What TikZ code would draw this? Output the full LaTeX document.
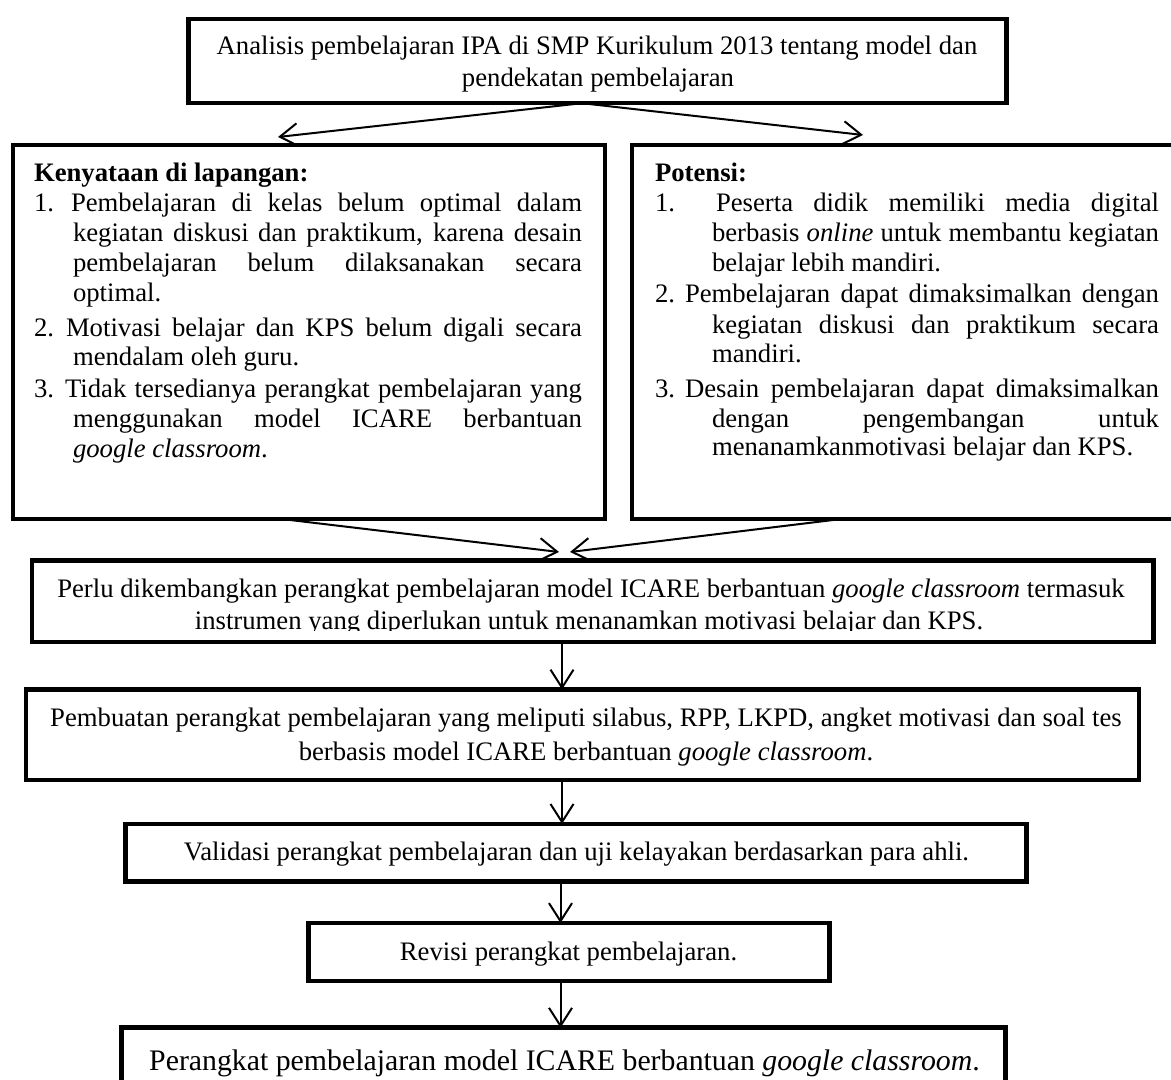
\documentclass[tikz,border=0pt]{standalone}
\usepackage{fontspec}
\setmainfont{Liberation Serif}
\usetikzlibrary{arrows.meta}
\newcommand\fs{\fontsize{13.35pt}{15pt}\selectfont}
\newcommand\fsbig{\fontsize{14.9pt}{18pt}\selectfont}
\newcommand\jl[2]{\makebox[#1][s]{#2}}
\tikzset{
  box/.style={draw, line width=2.25pt, rectangle, inner sep=0pt, outer sep=0pt},
  txt/.style={inner sep=0pt, outer sep=0pt, font=\fs, anchor=base west},
  ctxt/.style={inner sep=0pt, outer sep=0pt, font=\fs, anchor=base},
  arr/.style={line width=1pt, -{Straight Barb[length=9pt,width=11.5pt,line width=1pt]}},
}
\begin{document}
\begin{tikzpicture}[x=0.5pt,y=-0.5pt]
\useasboundingbox (0,0) rectangle (1171,1080);
\fill[white] (0,0) rectangle (1171,1080);
\clip (0,0) rectangle (1171,1080);

% boxes
\node[box, minimum width=409pt, minimum height=42pt] (B1) at (597.5,61.2) {};
\node[box, minimum width=296pt, minimum height=186.8pt] (B2) at (309,332) {};
\node[box, minimum width=276.5pt, minimum height=186.8pt] (B3) at (908.5,332) {};
\node[box, minimum width=560.65pt, minimum height=40.75pt] (B4) at (592.7,601.3) {};
\node[box, minimum width=556.6pt, minimum height=45.25pt] (B5) at (582.4,734.75) {};
\node[box, minimum width=450.7pt, minimum height=28.75pt] (B6) at (576,852.6) {};
\node[box, minimum width=260.5pt, minimum height=29pt] (B7) at (569,952) {};
\node[box, minimum width=442pt, minimum height=41.2pt] (B8) at (563.6,1068.9) {};

% box 1 text
\node[ctxt] (t1a) at (597,55) {Analisis pembelajaran IPA di SMP Kurikulum 2013 tentang model dan};
\node[ctxt] (t1b) at (598,87) {pendekatan pembelajaran};

% box 2 text
\node[txt] (k0) at (34,182) {\textbf{Kenyataan di lapangan:}};
\node[txt] (n1) at (34,212) {1.};
\node[txt] (k1) at (71,212) {\jl{255.5pt}{Pembelajaran di kelas belum optimal dalam}};
\node[txt] (k2) at (73,241.5) {\jl{254.5pt}{kegiatan diskusi dan praktikum, karena desain}};
\node[txt] (k3) at (73,272) {\jl{254.5pt}{pembelajaran belum dilaksanakan secara}};
\node[txt] (k4) at (73,302) {optimal.};
\node[txt] (n2) at (34,336) {2.};
\node[txt] (k5) at (66,336) {\jl{258pt}{Motivasi belajar dan KPS belum digali secara}};
\node[txt] (k6) at (73,365) {mendalam oleh guru.};
\node[txt] (n3) at (34,397) {3.};
\node[txt] (k7) at (65,397) {\jl{258.5pt}{Tidak tersedianya perangkat pembelajaran yang}};
\node[txt] (k8) at (73,427) {\jl{254.5pt}{menggunakan model ICARE berbantuan}};
\node[txt] (k9) at (73,457) {\textit{google classroom}.};

% box 3 text
\node[txt] (p0) at (655,182) {\textbf{Potensi:}};
\node[txt] (q1) at (655,212) {1.};
\node[txt] (p1) at (716,212) {\jl{221.5pt}{Peserta didik memiliki media digital}};
\node[txt] (p2) at (712,242) {\jl{223.5pt}{berbasis \textit{online} untuk membantu kegiatan}};
\node[txt] (p3) at (712,272) {belajar lebih mandiri.};
\node[txt] (q2) at (655,303) {2.};
\node[txt] (p4) at (685,303) {\jl{237pt}{Pembelajaran dapat dimaksimalkan dengan}};
\node[txt] (p5) at (712,334) {\jl{223.5pt}{kegiatan diskusi dan praktikum secara}};
\node[txt] (p6) at (712,363) {mandiri.};
\node[txt] (q3) at (655,397) {3.};
\node[txt] (p7) at (685,397) {\jl{237pt}{Desain pembelajaran dapat dimaksimalkan}};
\node[txt] (p8) at (712,427) {\jl{223.5pt}{dengan pengembangan untuk}};
\node[txt] (p9) at (712,455) {menanamkanmotivasi belajar dan KPS.};

% box 4 text
\node[ctxt] (l4a) at (591,597.5) {Perlu dikembangkan perangkat pembelajaran model ICARE berbantuan \textit{google classroom} termasuk};
\begin{scope}
\clip (0,600) rectangle (1171,630.5);
\node[ctxt] (l4b) at (589,629) {instrumen yang diperlukan untuk menanamkan motivasi belajar dan KPS.};
\end{scope}

% box 5 text
\node[ctxt] (l5a) at (586,726) {Pembuatan perangkat pembelajaran yang meliputi silabus, RPP, LKPD, angket motivasi dan soal tes};
\node[ctxt] (l5b) at (586,760) {berbasis model ICARE berbantuan \textit{google classroom}.};

% box 6,7,8 text
\node[ctxt] (l6) at (576.5,860) {Validasi perangkat pembelajaran dan uji kelayakan berdasarkan para ahli.};
\node[ctxt] (l7) at (568.5,960) {Revisi perangkat pembelajaran.};
\node[ctxt, font=\fsbig] (l8) at (564.5,1070) {Perangkat pembelajaran model ICARE berbantuan \textit{google classroom}.};

% connector helper coordinates
\coordinate (s1) at (582,0);
\coordinate (e1) at (278,137);
\coordinate (e2) at (863,135);
\coordinate (s3) at (280,0);
\coordinate (s4) at (843,0);
\coordinate (e3) at (559,552);
\coordinate (e4) at (570,552);
\coordinate (c5) at (562,0);
\coordinate (c7) at (560.5,0);

% connectors
\draw[arr] (B1.south -| s1) -- (e1);
\draw[arr] (B1.south -| s1) -- (e2);
\draw[arr] (B2.south -| s3) -- (e3);
\draw[arr] (B3.south -| s4) -- (e4);
\draw[arr] (B4.south -| c5) -- (B5.north -| c5);
\draw[arr] (B5.south -| c5) -- (B6.north -| c5);
\draw[arr] (B6.south -| c7) -- (B7.north -| c7);
\draw[arr] (B7.south -| c7) -- (B8.north -| c7);
\end{tikzpicture}
\end{document}
